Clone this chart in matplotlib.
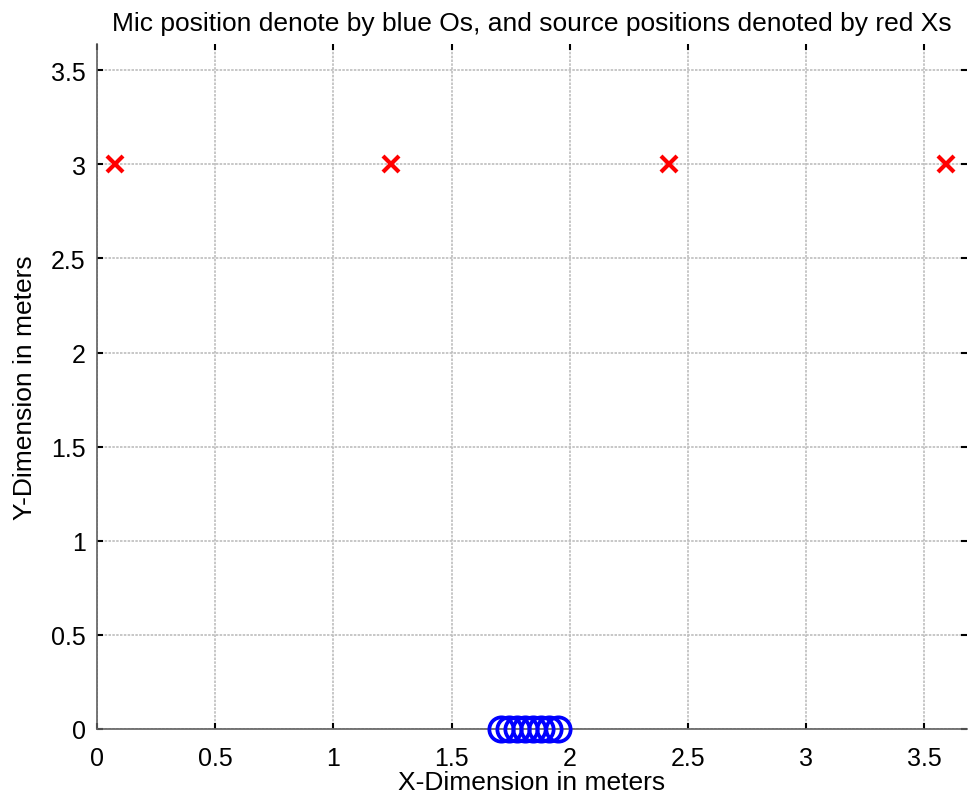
import numpy as np
import matplotlib
matplotlib.use("Agg")
from matplotlib import pyplot as plt

# source and mic positions (meters)
src_x = [0.076, 1.244, 2.42, 3.59]
src_y = [3, 3, 3, 3]
mic_x = [1.71, 1.744, 1.778, 1.812, 1.846, 1.88, 1.914, 1.948]
mic_y = [0, 0, 0, 0, 0, 0, 0, 0]
xticks = [0, 0.5, 1, 1.5, 2, 2.5, 3, 3.5]
yticks = [0, 0.5, 1, 1.5, 2, 2.5, 3, 3.5]
ticklabels = ['0', '0.5', '1', '1.5', '2', '2.5', '3', '3.5']

plt.rcParams['font.family'] = ['Liberation Sans', 'DejaVu Sans']

fig = plt.figure(figsize=(9.69, 8.03), dpi=100)
ax = fig.add_axes([0.100, 0.091, 0.898, 0.853])

ax.plot(mic_x, mic_y, 'o', color='blue', markerfacecolor='none',
        markersize=17.5, markeredgewidth=2.7, clip_on=False, zorder=3)
ax.plot(src_x, src_y, 'x', color='red', markersize=11,
        markeredgewidth=3, zorder=3)

ax.set_xlim(0, 3.68)
ax.set_ylim(0, 3.64)
ax.set_xticks(xticks)
ax.set_yticks(yticks)
ax.set_xticklabels(ticklabels)
ax.set_yticklabels(ticklabels)
ax.grid(True, color='#bdbdbd', linestyle=(0, (1.5, 0.8)), linewidth=1.2)

# matlab-ish box: gray left/bottom, no top/right line but tick marks there
ax.spines['top'].set_visible(False)
ax.spines['right'].set_visible(False)
for s in ['left', 'bottom']:
    ax.spines[s].set_color('#606060')
    ax.spines[s].set_linewidth(1.2)
ax.tick_params(direction='in', top=True, right=True, labelsize=18,
               length=4, width=1.5, color='black')
ax.tick_params(axis='x', pad=12)
ax.tick_params(axis='y', pad=8)

ax.set_xlabel('X-Dimension in meters', fontsize=19, labelpad=0)
ax.set_ylabel('Y-Dimension in meters', fontsize=19, labelpad=10)
ax.set_title('Mic position denote by blue Os, and source positions denoted by red Xs',
             fontsize=19, pad=10)

fig.savefig('out.png', dpi=100)
